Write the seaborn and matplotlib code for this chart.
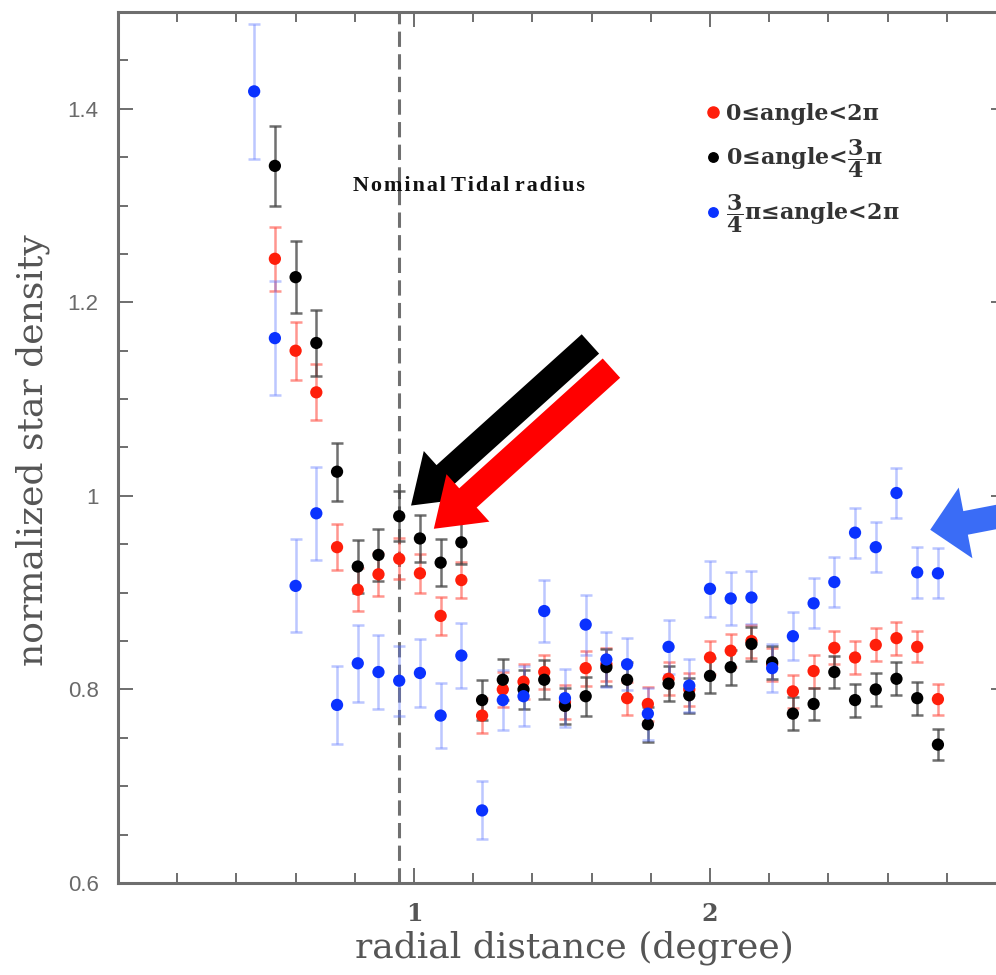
import numpy as np
import pandas as pd
import matplotlib
matplotlib.use("Agg")
import matplotlib.pyplot as plt
from matplotlib.patches import FancyArrow
from matplotlib.transforms import IdentityTransform
from matplotlib.lines import Line2D
from matplotlib.ticker import MultipleLocator, FixedLocator, FuncFormatter
import seaborn as sns

# radial bins (degree)
radius = [0.46, 0.53, 0.60, 0.67, 0.74, 0.81, 0.88, 0.95, 1.02, 1.09,
          1.16, 1.23, 1.30, 1.37, 1.44, 1.51, 1.58, 1.65, 1.72, 1.79,
          1.86, 1.93, 2.00, 2.07, 2.14, 2.21, 2.28, 2.35, 2.42, 2.49,
          2.56, 2.63, 2.70, 2.77]

# all position angles
dens_all = [np.nan, 1.245, 1.150, 1.107, 0.947, 0.903, 0.919, 0.935, 0.920, 0.876,
            0.913, 0.773, 0.800, 0.808, 0.818, 0.787, 0.822, 0.826, 0.791, 0.785,
            0.811, 0.800, 0.833, 0.840, 0.850, 0.826, 0.798, 0.819, 0.843, 0.833,
            0.846, 0.853, 0.844, 0.790]
err_all = [np.nan, 0.033, 0.030, 0.029, 0.024, 0.022, 0.022, 0.021, 0.020, 0.020,
           0.019, 0.018, 0.018, 0.018, 0.018, 0.018, 0.018, 0.017, 0.017, 0.018,
           0.017, 0.017, 0.017, 0.017, 0.017, 0.017, 0.017, 0.017, 0.017, 0.017,
           0.017, 0.017, 0.016, 0.016]

# 0 <= angle < 3/4 pi
dens_lead = [np.nan, 1.341, 1.226, 1.158, 1.025, 0.927, 0.939, 0.979, 0.956, 0.931,
             0.952, 0.789, 0.810, 0.800, 0.810, 0.783, 0.793, 0.823, 0.810, 0.764,
             0.806, 0.794, 0.814, 0.823, 0.847, 0.828, 0.775, 0.785, 0.818, 0.789,
             0.800, 0.811, 0.791, 0.743]
err_lead = [np.nan, 0.041, 0.037, 0.034, 0.030, 0.027, 0.027, 0.026, 0.024, 0.024,
            0.022, 0.021, 0.021, 0.020, 0.020, 0.019, 0.020, 0.019, 0.018, 0.018,
            0.018, 0.018, 0.018, 0.018, 0.018, 0.017, 0.017, 0.017, 0.017, 0.017,
            0.017, 0.017, 0.017, 0.016]

# 3/4 pi <= angle < 2 pi
dens_trail = [1.418, 1.163, 0.907, 0.982, 0.784, 0.827, 0.818, 0.809, 0.817, 0.773,
              0.835, 0.675, 0.789, 0.793, 0.881, 0.791, 0.867, 0.831, 0.826, 0.775,
              0.844, 0.804, 0.904, 0.894, 0.895, 0.822, 0.855, 0.889, 0.911, 0.962,
              0.947, 1.003, 0.921, 0.920]
err_trail = [0.070, 0.059, 0.048, 0.048, 0.040, 0.040, 0.038, 0.036, 0.035, 0.034,
             0.034, 0.030, 0.031, 0.031, 0.032, 0.030, 0.031, 0.028, 0.027, 0.027,
             0.028, 0.027, 0.029, 0.027, 0.027, 0.025, 0.025, 0.026, 0.026, 0.026,
             0.026, 0.026, 0.026, 0.026]

series_labels = [r"0≤angle<2π",
                 r"0≤angle<$\mathbf{\dfrac{3}{4}}$π",
                 r"$\mathbf{\dfrac{3}{4}}$π≤angle<2π"]
tidal_radius = 0.95
tidal_label = "Nominal Tidal radius"

sns.set_theme(style="ticks")
plt.rcParams["font.family"] = ["DejaVu Serif", "DejaVu Sans"]
plt.rcParams["mathtext.fontset"] = "dejavuserif"

marker_colors = ["#ff1e0a", "#000000", "#0a32ff"]
err_colors = [(1.0, 0.25, 0.2, 0.55), (0.25, 0.25, 0.25, 0.75), (0.35, 0.45, 1.0, 0.40)]

frames = []
for lab, d, e in zip(series_labels,
                     [dens_all, dens_lead, dens_trail],
                     [err_all, err_lead, err_trail]):
    frames.append(pd.DataFrame({"radius": radius, "density": d, "err": e, "series": lab}))
df = pd.concat(frames, ignore_index=True).dropna()

W, H = 996, 975
fig = plt.figure(figsize=(W / 100, H / 100), dpi=100)
ax = fig.add_axes([118 / W, (H - 883) / H, (1006 - 118) / W, (883 - 12) / H])

# error bars first, markers on top
for lab, ec in zip(series_labels, err_colors):
    sub = df[df["series"] == lab]
    ax.errorbar(sub["radius"], sub["density"], yerr=sub["err"], fmt="none",
                ecolor=ec, elinewidth=1.8, capsize=4.3, capthick=1.8, zorder=2)

sns.scatterplot(data=df, x="radius", y="density", hue="series",
                hue_order=series_labels, palette=marker_colors,
                s=78, linewidth=0, legend=False, ax=ax, zorder=3)

ax.axvline(tidal_radius, color="#707070", lw=2.2, ls=(0, (5.0, 2.4)), zorder=1)

ax.set_xlim(0, 3)
ax.set_ylim(0.6, 1.5)
ax.xaxis.set_major_locator(FixedLocator([1, 2]))
ax.xaxis.set_minor_locator(MultipleLocator(0.2))
ax.yaxis.set_major_locator(FixedLocator([0.6, 0.8, 1.0, 1.2, 1.4]))
ax.yaxis.set_minor_locator(MultipleLocator(0.05))
ax.yaxis.set_major_formatter(FuncFormatter(lambda v, p: f"{v:g}"))
ax.xaxis.set_major_formatter(FuncFormatter(lambda v, p: f"{v:g}"))

spine_c = "#6e6e6e"
for s in ax.spines.values():
    s.set_color(spine_c)
    s.set_linewidth(2.2)
ax.tick_params(which="both", direction="in", top=True, right=True,
               color=spine_c, width=1.4)
ax.tick_params(which="major", length=11)
ax.tick_params(which="minor", length=7)
ax.tick_params(axis="y", which="major", pad=14, labelsize=16, labelcolor="#6a6a6a")
ax.tick_params(axis="x", which="major", pad=14, labelsize=17, labelcolor="#555555")
for t in ax.get_yticklabels():
    t.set_fontfamily("Liberation Sans")
for t in ax.get_xticklabels():
    t.set_fontweight("bold")

ax.set_xlabel("radial distance (degree)", fontsize=26, color="#555555")
ax.set_ylabel("normalized star density", fontsize=26, color="#555555")
ax.xaxis.set_label_coords(0.5135, -0.054)
ax.yaxis.set_label_coords(-0.077, 0.497)
ax.grid(False)

# letter-spaced annotation of the tidal radius
ax.text(0.795, 1.3206, "\u200a".join(tidal_label).replace("\u200a \u200a", " "),
        fontsize=16, fontweight="bold", family=["Liberation Serif", "DejaVu Serif"],
        color="#111111", va="center", ha="left")

handles = [Line2D([], [], ls="none", marker="o", color=c, markersize=ms)
           for c, ms in zip(marker_colors, [8.0, 6.8, 6.8])]
ax.legend(handles, series_labels, loc="upper left", frameon=False,
          bbox_to_anchor=(695 / W, (H - 92) / H), bbox_transform=fig.transFigure,
          prop={"weight": "bold", "size": 16}, labelcolor="#333333",
          handlelength=0.6, handletextpad=0.3, labelspacing=0.55, borderpad=0)

# highlight arrows
def fat_arrow(tail, tip, color, width, head_w, head_l):
    p0 = ax.transData.transform(tail)
    p1 = ax.transData.transform(tip)
    arr = FancyArrow(p0[0], p0[1], p1[0] - p0[0], p1[1] - p0[1], width=width,
                     head_width=head_w, head_length=head_l, length_includes_head=True,
                     transform=IdentityTransform(), color=color, lw=0, zorder=5)
    fig.add_artist(arr)

fat_arrow((1.596, 1.157), (0.99, 0.99), "#000000", 26, 64, 46)
fat_arrow((1.667, 1.132), (1.067, 0.966), "#ff0000", 26, 64, 46)
fat_arrow((3.2, 0.992), (2.744, 0.965), "#3a6cf6", 24, 72, 36)

fig.savefig("out.png", dpi=100)
